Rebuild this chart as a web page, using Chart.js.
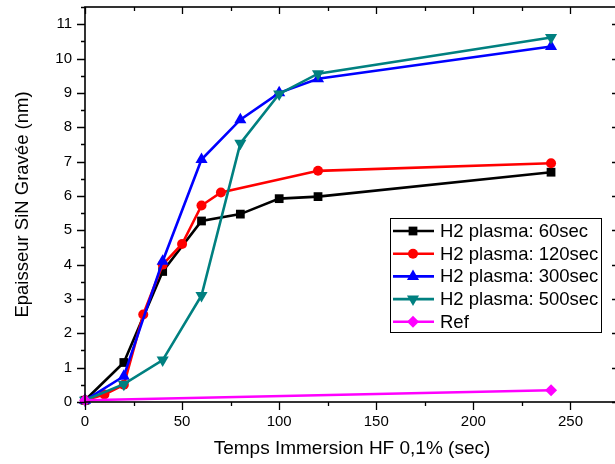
<!DOCTYPE html>
<html>
<head>
<meta charset="utf-8">
<script src="https://cdn.jsdelivr.net/npm/chart.js@4/dist/chart.umd.min.js"></script>
<style>
html,body{margin:0;padding:0;background:#fff;overflow:hidden;}
#wrap{width:615px;height:464px;overflow:hidden;}
</style>
</head>
<body>
<div id="wrap"><canvas id="c" width="620" height="464"></canvas></div>
<script>
// Data
const seriesNames = ["H2 plasma: 60sec", "H2 plasma: 120sec", "H2 plasma: 300sec", "H2 plasma: 500sec", "Ref"];
const t60  = [0, 20, 40, 60, 80, 100, 120, 240];
const v60  = [0.05, 1.15, 3.8, 5.27, 5.47, 5.92, 5.98, 6.69];
const t120 = [0, 10, 20, 30, 40, 50, 60, 70, 120, 240];
const v120 = [0.05, 0.22, 0.5, 2.55, 4.0, 4.6, 5.72, 6.1, 6.73, 6.95];
const t300 = [0, 20, 40, 60, 80, 100, 120, 240];
const v300 = [0.05, 0.75, 4.1, 7.06, 8.22, 9.0, 9.41, 10.35];
const t500 = [0, 20, 40, 60, 80, 100, 120, 240];
const v500 = [0.05, 0.52, 1.22, 3.1, 7.53, 8.97, 9.56, 10.61];
const tRef = [0, 240];
const vRef = [0.05, 0.34];
const xTicks = [0, 50, 100, 150, 200, 250];
const yTicks = [0, 1, 2, 3, 4, 5, 6, 7, 8, 9, 10, 11];

const FONT = "'Liberation Sans', Arial, sans-serif";
const pts = (xs, ys) => xs.map((x, i) => ({x: x, y: ys[i]}));

const styles = [
  {color: '#000000', pointStyle: 'rect', radius: 6.2, rotation: 0},
  {color: '#ff0000', pointStyle: 'circle', radius: 5, rotation: 0},
  {color: '#0000ff', pointStyle: 'triangle', radius: 7, rotation: 0},
  {color: '#008080', pointStyle: 'triangle', radius: 7, rotation: 180},
  {color: '#ff00ff', pointStyle: 'rectRot', radius: 6, rotation: 0}
];
const dataArr = [pts(t60, v60), pts(t120, v120), pts(t300, v300), pts(t500, v500), pts(tRef, vRef)];

const datasets = dataArr.map((d, i) => ({
  label: seriesNames[i],
  data: d,
  borderColor: styles[i].color,
  backgroundColor: styles[i].color,
  borderWidth: 2.6,
  pointStyle: styles[i].pointStyle,
  pointRadius: styles[i].radius,
  pointRotation: styles[i].rotation,
  pointBorderWidth: 0,
  pointHoverRadius: styles[i].radius,
  tension: 0,
  clip: false,
  order: 10 - i
}));

const frameTicks = {
  id: 'frameTicks',
  afterDatasetsDraw(chart) {
    const ctx = chart.ctx;
    const a = chart.chartArea;
    const xs = chart.scales.x, ys = chart.scales.y;
    ctx.save();
    ctx.strokeStyle = '#000';
    ctx.lineWidth = 1.6;
    ctx.strokeRect(a.left, a.top, a.right - a.left, a.bottom - a.top);
    ctx.lineWidth = 1.3;
    ctx.beginPath();
    for (let v = 0; v <= xs.max + 1e-9; v += 25) {
      const px = Math.round(xs.getPixelForValue(v)) + 0.5;
      const major = v % 50 === 0;
      ctx.moveTo(px, a.bottom); ctx.lineTo(px, a.bottom + (major ? 8 : 4));
      ctx.moveTo(px, a.top); ctx.lineTo(px, a.top + (major ? 7 : 4));
    }
    for (let v = 0; v <= ys.max + 1e-9; v += 0.5) {
      const py = Math.round(ys.getPixelForValue(v)) + 0.5;
      const major = Math.abs(v - Math.round(v)) < 1e-9;
      ctx.moveTo(a.left, py); ctx.lineTo(a.left - (major ? 8 : 4), py);
      ctx.moveTo(a.right, py); ctx.lineTo(a.right - (major ? 7 : 4), py);
    }
    ctx.stroke();
    ctx.restore();
  },
  afterDraw(chart) {
    const ctx = chart.ctx;
    const bx = 390, by = 218, bw = 211, bh = 114;
    ctx.save();
    ctx.fillStyle = '#fff';
    ctx.fillRect(bx, by, bw, bh);
    ctx.strokeStyle = '#000';
    ctx.lineWidth = 1;
    ctx.strokeRect(bx + 0.5, by + 0.5, bw, bh);
    ctx.font = '18.5px ' + FONT;
    ctx.textBaseline = 'middle';
    ctx.textAlign = 'left';
    chart.data.datasets.forEach((ds, i) => {
      const cy = by + 13 + i * 22.7;
      ctx.strokeStyle = ds.borderColor;
      ctx.lineWidth = 2.6;
      ctx.beginPath();
      ctx.moveTo(bx + 3, cy); ctx.lineTo(bx + 44, cy);
      ctx.stroke();
      ctx.fillStyle = ds.backgroundColor;
      Chart.helpers.drawPoint(ctx, {pointStyle: ds.pointStyle, radius: ds.pointRadius, rotation: ds.pointRotation, borderWidth: 0}, bx + 23, cy);
      ctx.fillStyle = '#000';
      ctx.fillText(ds.label, bx + 50, cy + 1);
    });
    ctx.restore();
  }
};

new Chart(document.getElementById('c'), {
  type: 'line',
  data: {datasets: datasets},
  options: {
    responsive: false,
    animation: false,
    layout: {autoPadding: false, padding: {top: 7, right: 1, left: 0, bottom: 0}},
    plugins: {legend: {display: false}, tooltip: {enabled: false}},
    scales: {
      x: {
        type: 'linear', min: 0, max: 275,
        afterBuildTicks: s => { s.ticks = xTicks.map(v => ({value: v})); },
        afterFit: s => { s.height = 62; s.paddingLeft = 0; s.paddingRight = 0; },
        ticks: {font: {family: FONT, size: 15}, color: '#000', padding: 3, maxRotation: 0, autoSkip: false},
        grid: {display: true, drawOnChartArea: false, drawTicks: true, tickLength: 8, color: 'rgba(0,0,0,0)'},
        border: {display: false},
        title: {display: true, text: 'Temps Immersion HF 0,1% (sec)', font: {family: FONT, size: 19}, color: '#000', padding: {top: 0, bottom: 4}}
      },
      y: {
        type: 'linear', min: 0, max: 11.5,
        afterBuildTicks: s => { s.ticks = yTicks.map(v => ({value: v})); },
        afterFit: s => { s.width = 85; s.paddingTop = 0; s.paddingBottom = 0; },
        ticks: {font: {family: FONT, size: 15}, color: '#000', padding: 5, autoSkip: false},
        grid: {display: true, drawOnChartArea: false, drawTicks: true, tickLength: 8, color: 'rgba(0,0,0,0)'},
        border: {display: false},
        title: {display: true, text: 'Epaisseur SiN Gravée (nm)', font: {family: FONT, size: 18.5}, color: '#000', padding: {top: 12, bottom: 0}}
      }
    }
  },
  plugins: [frameTicks]
});
</script>
</body>
</html>
